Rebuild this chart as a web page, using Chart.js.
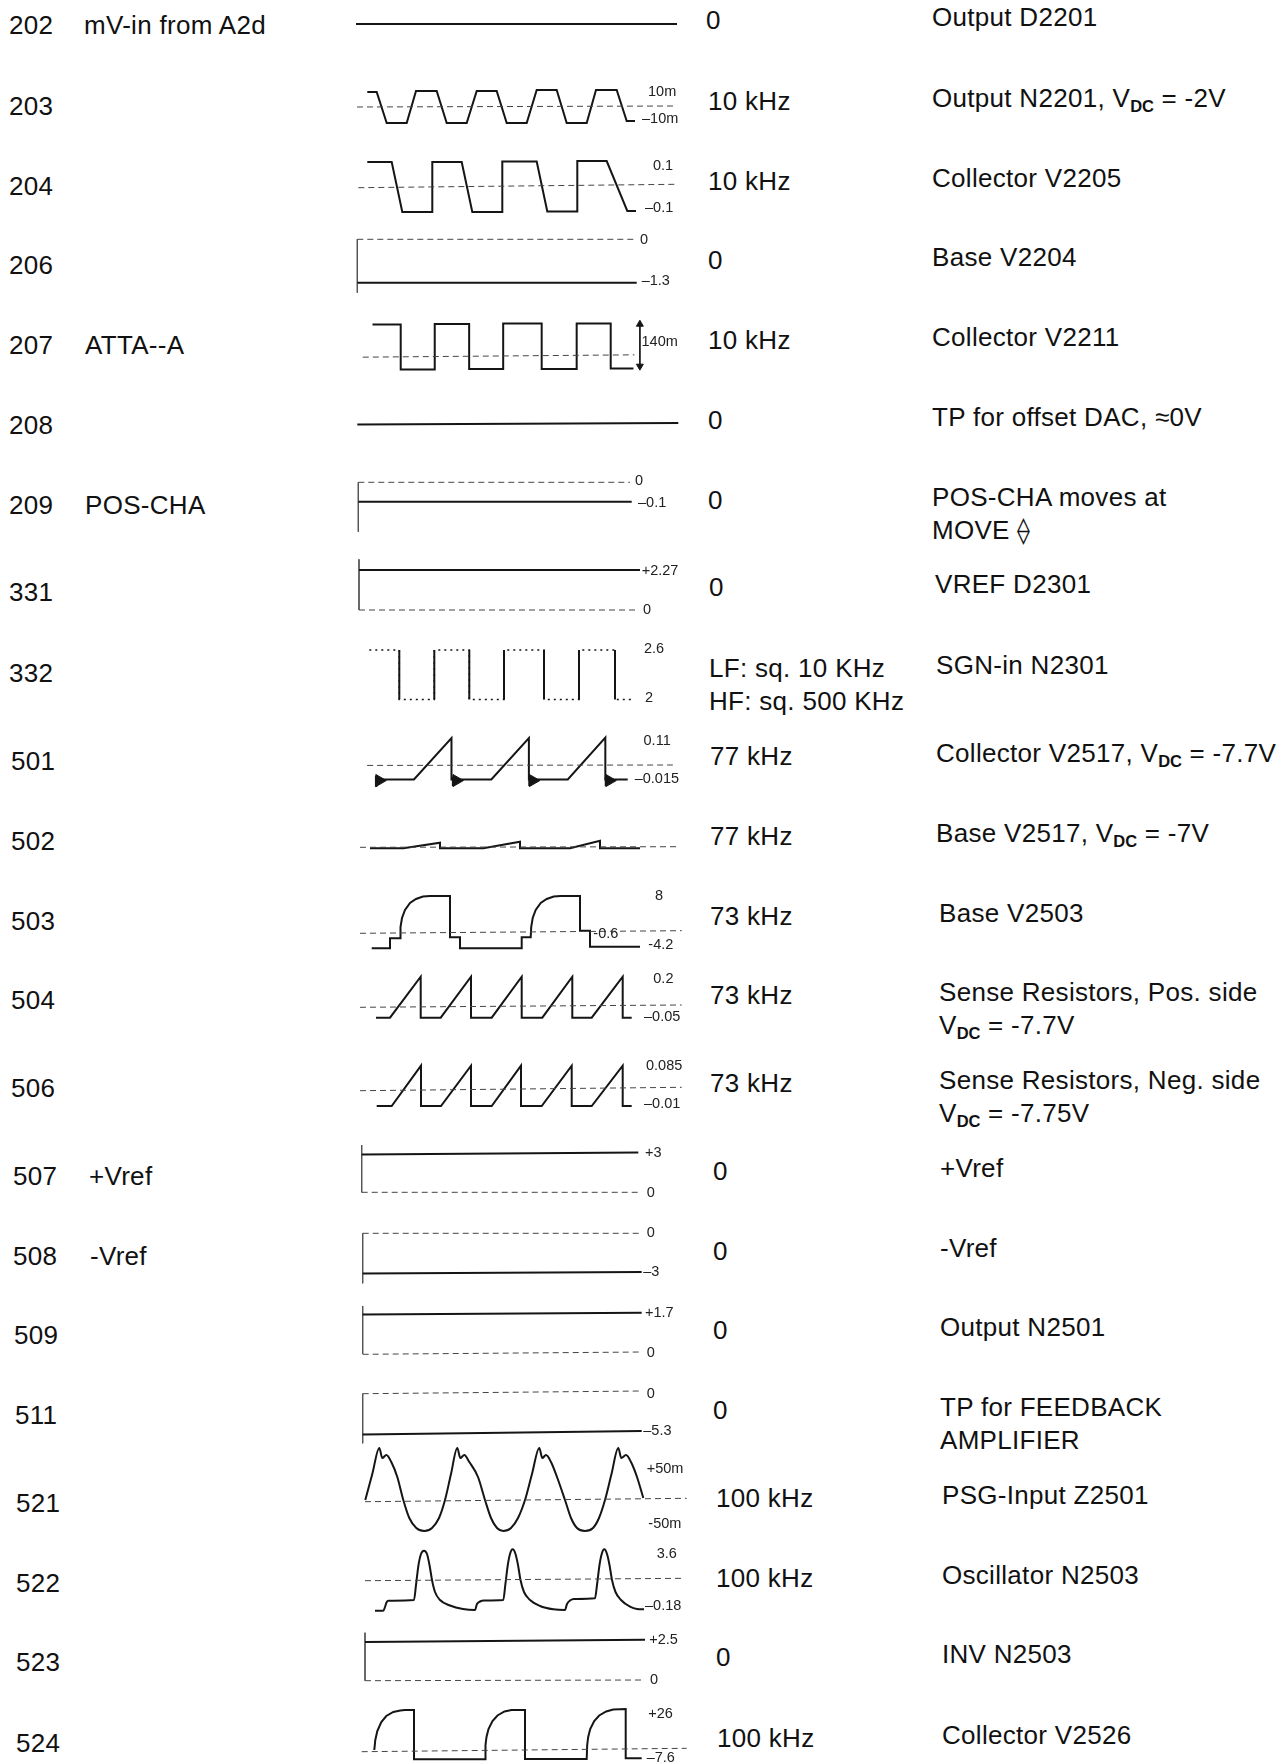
<!DOCTYPE html>
<html>
<head>
<meta charset="utf-8">
<title>Test point waveforms</title>
<script src="https://cdn.jsdelivr.net/npm/chart.js@4.4.0/dist/chart.umd.min.js"></script>
<style>
    html, body { margin: 0; padding: 0; background: #fff; overflow: hidden; }
    #page {
        position: relative;
        width: 1287px;
        height: 1763px;
        font-family: "Liberation Sans", Arial, Helvetica, sans-serif;
        color: #111;
    }
    .t { position: absolute; font-size: 26px; letter-spacing: 0.3px; line-height: 33px; white-space: nowrap; }
    .lab { position: absolute; font-size: 14.5px; line-height: 14px; white-space: nowrap; color: #222; }
    .s { font-size: 16.5px; font-weight: bold; letter-spacing: 0; position: relative; top: 5px; }
    canvas { position: absolute; }
</style>
</head>
<body>
<div id="page"></div>
<script>
// ---- table columns ----
const testPoints = ['202', '203', '204', '206', '207', '208', '209', '331', '332', '501', '502',
    '503', '504', '506', '507', '508', '509', '511', '521', '522', '523', '524'];
const signalNames = ['mV-in from A2d', '', '', '', 'ATTA--A', '', 'POS-CHA', '', '', '', '',
    '', '', '', '+Vref', '-Vref', '', '', '', '', '', ''];
const frequencies = ['0', '10 kHz', '10 kHz', '0', '10 kHz', '0', '0', '0',
    'LF: sq. 10 KHz\nHF: sq. 500 KHz', '77 kHz', '77 kHz', '73 kHz', '73 kHz', '73 kHz',
    '0', '0', '0', '0', '100 kHz', '100 kHz', '0', '100 kHz'];
const descriptions = ['Output D2201', 'Output N2201, V_DC = -2V', 'Collector V2205', 'Base V2204',
    'Collector V2211', 'TP for offset DAC, \u22480V', 'POS-CHA moves at\nMOVE \u27E0', 'VREF D2301',
    'SGN-in N2301', 'Collector V2517, V_DC = -7.7V', 'Base V2517, V_DC = -7V', 'Base V2503',
    'Sense Resistors, Pos. side\nV_DC = -7.7V', 'Sense Resistors, Neg. side\nV_DC = -7.75V',
    '+Vref', '-Vref', 'Output N2501', 'TP for FEEDBACK\nAMPLIFIER', 'PSG-Input Z2501',
    'Oscillator N2503', 'INV N2503', 'Collector V2526'];

// ---- traces in divisions (x 0..36, y -5..5, 0 = row centre) ----
const trace202 = [[1.6, 2.6], [33.7, 2.6]];

const trace203 = [[2.73, 1.5], [3.67, 1.5], [4.67, -1.6], [6.67, -1.6], [7.6, 1.6], [9.67, 1.6], [10.67, -1.6],
    [12.67, -1.6], [13.67, 1.6], [15.67, 1.6], [16.67, -1.6], [18.67, -1.6], [19.67, 1.7], [21.67, 1.7],
    [22.67, -1.6], [24.67, -1.6], [25.6, 1.7], [27.67, 1.7], [28.67, -1.4], [29.5, -1.4]];
const zero203 = [[1.7, 0], [33.7, 0.1]];
const marks203 = ['10m', '\u201310m'];

const trace204 = [[2.73, 2.5], [5.17, 2.5], [6.23, -2.5], [9.23, -2.5], [9.23, 2.5], [12.17, 2.5], [13.23, -2.5],
    [16.23, -2.5], [16.23, 2.55], [19.67, 2.55], [20.73, -2.45], [23.73, -2.45], [23.73, 2.6], [26.67, 2.6],
    [28.73, -2.4], [29.6, -2.4]];
const zero204 = [[1.83, -0.07], [33.67, 0.27]];
const marks204 = ['0.1', '\u20130.1'];

const ref206 = [[1.73, 2.17], [29.67, 2.17]];
const level206 = [[1.73, -2.17], [29.67, -2.17]];
const axis206 = [[1.73, 2.17], [1.73, -3.17]];
const marks206 = ['0', '\u20131.3'];

const trace207 = [[2.83, 2.5], [5.73, 2.5], [5.73, -2.5], [9.23, -2.5], [9.23, 2.55], [12.77, 2.55], [12.77, -2.45],
    [16.27, -2.45], [16.27, 2.6], [20.23, 2.6], [20.23, -2.45], [23.83, -2.45], [23.83, 2.6], [27.33, 2.6],
    [27.33, -2.4], [29.67, -2.4]];
const zero207 = [[1.83, -1.13], [29.77, -0.87]];
const span207 = [[30.33, 2.53], [30.33, -2.13]];
const marks207 = ['140m'];

const level208 = [[1.73, 0.05], [33.83, 0.2]];

const ref209 = [[1.83, 2.27], [29.0, 2.27]];
const level209 = [[1.83, 0.33], [29.17, 0.33]];
const axis209 = [[1.83, 2.27], [1.83, -2.67]];
const marks209 = ['0', '\u20130.1'];

const level331 = [[1.9, 2.0], [30.0, 2.0]];
const ref331 = [[1.9, -2.0], [29.8, -2.0]];
const axis331 = [[1.9, 3.07], [1.9, -2.0]];
const marks331 = ['+2.27', '0'];

const square332 = [[2.93, 2.5], [5.93, 2.5], [5.93, -2.45], [9.43, -2.45], [9.43, 2.5], [12.93, 2.5], [12.93, -2.45],
    [16.4, -2.45], [16.4, 2.5], [20.4, 2.5], [20.4, -2.45], [23.9, -2.45], [23.9, 2.5], [27.5, 2.5],
    [27.5, -2.45], [29.33, -2.45]];
const edges332 = [[5.93, 2.5], [5.93, -2.45], [5.93, null], [9.43, -2.45], [9.43, 2.5], [9.43, null],
    [12.93, 2.5], [12.93, -2.45], [12.93, null], [16.4, -2.45], [16.4, 2.5], [16.4, null],
    [20.4, 2.5], [20.4, -2.45], [20.4, null], [23.9, -2.45], [23.9, 2.5], [23.9, null],
    [27.5, 2.5], [27.5, -2.45]];
const marks332 = ['2.6', '2'];

const trace501 = [[2.93, -1.73], [6.9, -1.73], [10.83, 3.2], [10.83, -1.73], [15.0, -1.73], [18.93, 3.2],
    [18.93, -1.73], [23.0, -1.73], [26.93, 3.25], [26.93, -1.73], [29.27, -1.73]];
const ring501 = [[3.28, -1.85], [11.35, -1.85], [19.35, -1.85], [27.35, -1.85]];
const ringBars501 = [[2.95, -1.3], [2.95, -2.6], [2.95, null], [11.0, -1.4], [11.0, -2.5], [11.0, null],
    [19.0, -1.4], [19.0, -2.5], [19.0, null], [27.0, -1.4], [27.0, -2.5]];
const zero501 = [[2.0, -0.05], [34.0, 0.0]];
const marks501 = ['0.11', '\u20130.015'];

const trace502 = [[3.0, -0.33], [6.33, -0.33], [10.0, 0.23], [10.0, -0.33], [14.33, -0.33], [18.0, 0.33],
    [18.0, -0.33], [23.0, -0.33], [26.0, 0.43], [26.0, -0.33], [30.0, -0.33]];
const zero502 = [[2.0, -0.23], [34.0, -0.17]];

const trace503 = [[3.17, -1.83], [5.0, -1.83], [5.0, -0.83], [6.0, -0.83], [6.05, 0.3], [6.2, 1.2], [6.5, 2.0],
    [7.0, 2.7], [7.6, 3.1], [8.3, 3.35], [9.0, 3.4], [11.0, 3.4], [11.0, -0.73], [12.0, -0.73], [12.0, -1.83],
    [18.17, -1.83], [18.17, -0.73], [19.07, -0.73], [19.12, 0.3], [19.27, 1.2], [19.57, 2.0], [20.07, 2.7],
    [20.67, 3.1], [21.37, 3.35], [22.07, 3.4], [24.0, 3.4], [24.0, -0.07], [25.0, -0.07], [25.0, -1.67],
    [30.0, -1.67]];
const zero503 = [[2.0, -0.33], [34.17, -0.07]];
const marks503 = ['8', '-0.6', '-4.2'];

const trace504 = [[3.6, -1.77], [5.0, -1.77], [8.07, 2.33], [8.07, -1.77], [10.07, -1.77], [13.1, 2.33],
    [13.1, -1.77], [15.17, -1.77], [18.17, 2.33], [18.17, -1.77], [20.23, -1.77], [23.23, 2.33],
    [23.23, -1.77], [25.17, -1.77], [28.27, 2.33], [28.27, -1.77], [29.17, -1.77]];
const zero504 = [[2.0, -0.73], [34.17, -0.5]];
const marks504 = ['0.2', '\u20130.05'];

const trace506 = [[3.67, -1.6], [5.17, -1.6], [8.1, 2.43], [8.1, -1.6], [10.1, -1.6], [13.1, 2.43],
    [13.1, -1.6], [15.17, -1.6], [18.1, 2.43], [18.1, -1.6], [20.17, -1.6], [23.17, 2.43],
    [23.17, -1.6], [25.17, -1.6], [28.27, 2.43], [28.27, -1.6], [29.17, -1.6]];
const zero506 = [[2.0, -0.07], [34.17, 0.27]];
const marks506 = ['0.085', '\u20130.01'];

const level507 = [[2.17, 1.85], [29.83, 2.05]];
const axis507 = [[2.17, 2.8], [2.17, -1.93]];
const ref507 = [[2.17, -1.93], [30.17, -1.93]];
const marks507 = ['+3', '0'];

const ref508 = [[2.27, 1.97], [30.17, 1.97]];
const level508 = [[2.27, -2.05], [30.17, -1.9]];
const axis508 = [[2.27, 1.97], [2.27, -3.03]];
const marks508 = ['0', '\u20133'];

const level509 = [[2.27, 1.95], [30.17, 2.12]];
const axis509 = [[2.27, 2.8], [2.27, -2.0]];
const ref509 = [[2.27, -2.03], [30.17, -1.8]];
const marks509 = ['+1.7', '0'];

const ref511 = [[2.27, 1.93], [30.17, 2.2]];
const level511 = [[2.27, -2.15], [30.17, -1.8]];
const axis511 = [[2.27, 1.93], [2.27, -3.03]];
const marks511 = ['0', '\u20135.3'];

const trace521 = [[2.53, -1.0], [3.23, 1.6], [3.93, 4.2], [4.23, 3.2], [4.63, 3.5], [5.13, 2.8], [5.73, 1.3],
    [6.33, -1.0], [6.93, -2.8], [7.63, -3.8], [8.43, -4.1], [9.2, -3.8], [9.9, -2.8], [10.5, -1.0], [11.1, 1.6],
    [11.73, 4.2], [12.03, 3.2], [12.43, 3.5], [12.93, 2.8], [13.8, 1.3], [14.5, -1.0], [15.1, -2.8], [15.7, -3.8],
    [16.33, -4.1], [17.1, -3.8], [17.8, -2.8], [18.5, -1.0], [19.2, 1.6], [19.93, 4.2], [20.23, 3.2], [20.6, 3.5],
    [21.1, 2.8], [21.7, 1.3], [22.5, -1.0], [23.1, -2.8], [23.7, -3.8], [24.5, -4.1], [25.3, -3.8], [25.9, -2.8],
    [26.5, -1.0], [27.15, 1.6], [27.83, 4.2], [28.13, 3.2], [28.6, 3.5], [29.1, 2.8], [29.7, 1.3], [30.33, -0.8]];
const zero521 = [[2.5, -1.17], [34.67, -0.83]];
const marks521 = ['+50m', '-50m'];

const trace522 = [[3.5, -3.07], [4.33, -3.07], [4.5, -2.7], [4.65, -2.25], [4.83, -2.07], [7.4, -2.0],
    [7.6, -0.5], [7.85, 1.5], [8.1, 2.6], [8.4, 2.93], [8.7, 2.6], [8.95, 1.5], [9.2, 0.0], [9.5, -1.2],
    [10.0, -2.0], [11.0, -2.55], [12.3, -2.9], [13.5, -3.0], [13.7, -2.4], [14.0, -2.15], [14.4, -2.05],
    [16.33, -2.0], [16.53, -0.5], [16.78, 1.5], [17.0, 2.6], [17.27, 3.07], [17.55, 2.6], [17.8, 1.5],
    [18.05, 0.0], [18.4, -1.2], [19.0, -2.0], [20.0, -2.6], [21.33, -2.93], [22.5, -3.0], [22.7, -2.4],
    [23.0, -2.05], [23.4, -1.9], [25.5, -1.83], [25.7, -0.5], [25.95, 1.5], [26.17, 2.6], [26.43, 3.07],
    [26.7, 2.6], [26.95, 1.5], [27.2, 0.0], [27.55, -1.2], [28.1, -2.0], [29.0, -2.67], [29.7, -2.9],
    [30.4, -2.93]];
const zero522 = [[2.5, -0.07], [34.5, 0.17]];
const marks522 = ['3.6', '\u20130.18'];

const level523 = [[2.5, 1.9], [30.5, 2.12]];
const axis523 = [[2.5, 2.83], [2.5, -1.97]];
const ref523 = [[2.5, -1.97], [30.5, -1.9]];
const marks523 = ['+2.5', '0'];

const trace524 = [[3.43, -1.5], [3.53, -0.5], [3.73, 0.4], [4.13, 1.3], [4.63, 1.9], [5.33, 2.3], [6.03, 2.45],
    [6.5, 2.5], [7.4, 2.5], [7.4, -2.43], [14.5, -2.43], [14.55, -1.0], [14.65, -0.2], [14.85, 0.6],
    [15.25, 1.4], [15.75, 1.95], [16.45, 2.35], [17.15, 2.5], [18.5, 2.5], [18.5, -2.4], [24.67, -2.4],
    [24.72, -1.0], [24.82, -0.2], [25.02, 0.6], [25.42, 1.4], [25.92, 1.95], [26.62, 2.35], [27.32, 2.55],
    [28.57, 2.6], [28.57, -2.33], [30.17, -2.33]];
const zero524 = [[2.17, -1.67], [34.67, -1.33]];
const marks524 = ['+26', '\u20137.6'];

// ---- page layout (px) ----
const rowY = [25, 106, 186, 265, 345, 425, 505, 592, 673, 761, 841, 921, 1000, 1088, 1176, 1256, 1335,
    1415, 1503, 1583, 1662, 1743];
const numX = [9, 9, 9, 9, 9, 9, 9, 9, 9, 11, 11, 11, 11, 11, 13, 13, 14, 15, 16, 16, 16, 16];
const freqX = [706, 708, 708, 708, 708, 708, 708, 709, 709, 710, 710, 710, 710, 710, 713, 713, 713, 713,
    716, 716, 716, 717];
const descX = [932, 932, 932, 932, 932, 932, 932, 935, 936, 936, 936, 939, 939, 939, 940, 940, 940, 940,
    942, 942, 942, 942];
const nameX = [84, 0, 0, 0, 85, 0, 85, 0, 0, 0, 0, 0, 0, 0, 89, 90, 0, 0, 0, 0, 0, 0];

// scope box per row: centre line on the page, series, label anchors (div units)
const scopes = [
    { mid: 50, series: [['solid', trace202]] },
    { mid: 107, series: [['dash', zero203], ['solid', trace203]], marks: marks203, at: [[30.8, 1.6], [30.2, -1.1]] },
    { mid: 187, series: [['dash', zero204], ['solid', trace204]], marks: marks204, at: [[31.3, 2.2], [30.5, -2.0]] },
    { mid: 261, series: [['dash', ref206], ['solid', level206], ['axis', axis206]], marks: marks206, at: [[30.0, 2.2], [30.17, -1.9]] },
    { mid: 347, series: [['dash', zero207], ['solid', trace207], ['arrow', span207]], marks: marks207, at: [[30.5, 0.7]] },
    { mid: 425, series: [['solid', level208]] },
    { mid: 505, series: [['dash', ref209], ['solid', level209], ['axis', axis209]], marks: marks209, at: [[29.5, 2.5], [29.8, 0.33]] },
    { mid: 590, series: [['solid', level331], ['dash', ref331], ['axis', axis331]], marks: marks331, at: [[30.17, 2.0], [30.3, -1.93]] },
    { mid: 675, series: [['dot', square332], ['solid', edges332]], marks: marks332, at: [[30.4, 2.67], [30.5, -2.17]] },
    { mid: 765, series: [['dash', zero501], ['solid', trace501], ['bar', ringBars501], ['ring', ring501]], marks: marks501, at: [[30.93, 3.0], [30.0, -1.6]] },
    { mid: 845, series: [['dash', zero502], ['solid', trace502]] },
    { mid: 930, series: [['dash', zero503], ['solid', trace503]], marks: marks503, at: [[31.5, 3.5], [25.33, -0.3], [30.83, -1.4]] },
    { mid: 1000, series: [['dash', zero504], ['solid', trace504]], marks: marks504, at: [[31.33, 2.17], [30.4, -1.57]] },
    { mid: 1090, series: [['dash', zero506], ['solid', trace506]], marks: marks506, at: [[30.6, 2.5], [30.4, -1.27]] },
    { mid: 1173, series: [['solid', level507], ['axis', axis507], ['dash', ref507]], marks: marks507, at: [[30.5, 2.13], [30.67, -1.93]] },
    { mid: 1253, series: [['dash', ref508], ['solid', level508], ['axis', axis508]], marks: marks508, at: [[30.67, 2.07], [30.33, -1.8]] },
    { mid: 1334, series: [['solid', level509], ['axis', axis509], ['dash', ref509]], marks: marks509, at: [[30.5, 2.23], [30.67, -1.83]] },
    { mid: 1413, series: [['dash', ref511], ['solid', level511], ['axis', axis511]], marks: marks511, at: [[30.67, 2.03], [30.33, -1.7]] },
    { mid: 1490, series: [['dash', zero521], ['curve', trace521]], marks: marks521, at: [[30.67, 2.2], [30.83, -3.33]] },
    { mid: 1580, series: [['dash', zero522], ['curve', trace522]], marks: marks522, at: [[31.67, 2.67], [30.5, -2.5]] },
    { mid: 1661, series: [['solid', level523], ['axis', axis523], ['dash', ref523]], marks: marks523, at: [[30.93, 2.2], [31.0, -1.83]] },
    { mid: 1735, series: [['dash', zero524], ['solid', trace524]], marks: marks524, at: [[30.83, 2.23], [30.67, -2.17]] }
];

const INK = '#151515';
const SCOPE_LEFT = 340;
const SCOPE_W = 360;
const SCOPE_H = 100;

const STYLES = {
    solid: { borderColor: INK, borderWidth: 2 },
    curve: { borderColor: INK, borderWidth: 2, cubicInterpolationMode: 'monotone' },
    dash: { borderColor: '#444', borderWidth: 1, borderDash: [6, 4] },
    dot: { borderColor: INK, borderWidth: 1.5, borderDash: [2, 4] },
    axis: { borderColor: '#555', borderWidth: 1 },
    bar: { borderColor: INK, borderWidth: 2.5 },
    arrow: {
        borderColor: INK, borderWidth: 1, pointStyle: 'triangle', pointRadius: 4,
        pointRotation: [0, 180], pointBackgroundColor: INK, pointBorderColor: INK, pointBorderWidth: 1
    },
    ring: {
        showLine: false, pointStyle: 'triangle', pointRadius: 7, pointRotation: 90,
        pointBackgroundColor: INK, pointBorderColor: INK, pointBorderWidth: 1
    }
};

const page = document.getElementById('page');

function addText(cls, html, x, y) {
    const el = document.createElement('div');
    el.className = cls;
    el.innerHTML = html;
    el.style.left = x + 'px';
    el.style.top = y + 'px';
    page.appendChild(el);
    return el;
}

function fmt(str) {
    return str.replace(/V_DC/g, 'V<span class="s">DC</span>').replace(/\n/g, '<br>');
}

// text columns
testPoints.forEach((tp, i) => {
    const y = rowY[i];
    addText('t', tp, numX[i], y - 16.5);
    if (signalNames[i]) addText('t', signalNames[i], nameX[i], y - 16.5);
    addText('t', fmt(frequencies[i]), freqX[i], y - 4.5 - 16.5);
    addText('t', fmt(descriptions[i]), descX[i], y - 7.5 - 16.5);
});

// one small chart per scope trace
scopes.forEach((row) => {
    const canvas = document.createElement('canvas');
    canvas.width = SCOPE_W;
    canvas.height = SCOPE_H;
    canvas.style.left = SCOPE_LEFT + 'px';
    canvas.style.top = (row.mid - SCOPE_H / 2) + 'px';
    page.appendChild(canvas);

    const datasets = row.series.map(([kind, pts]) => ({
        data: pts.map(([x, y]) => ({ x, y })),
        fill: false,
        tension: 0,
        pointRadius: 0,
        pointHoverRadius: 0,
        clip: false,
        spanGaps: false,
        ...STYLES[kind]
    }));

    const chart = new Chart(canvas, {
        type: 'line',
        data: { datasets },
        options: {
            responsive: false,
            animation: false,
            events: [],
            layout: { padding: 0 },
            plugins: { legend: { display: false }, tooltip: { enabled: false } },
            scales: {
                x: { type: 'linear', min: 0, max: 36, display: false },
                y: { type: 'linear', min: -5, max: 5, display: false }
            }
        }
    });

    (row.marks || []).forEach((text, k) => {
        const [mx, my] = row.at[k];
        const left = SCOPE_LEFT + chart.scales.x.getPixelForValue(mx);
        const top = row.mid - SCOPE_H / 2 + chart.scales.y.getPixelForValue(my) - 7;
        addText('lab', text, left, top);
    });
});
</script>
</body>
</html>
